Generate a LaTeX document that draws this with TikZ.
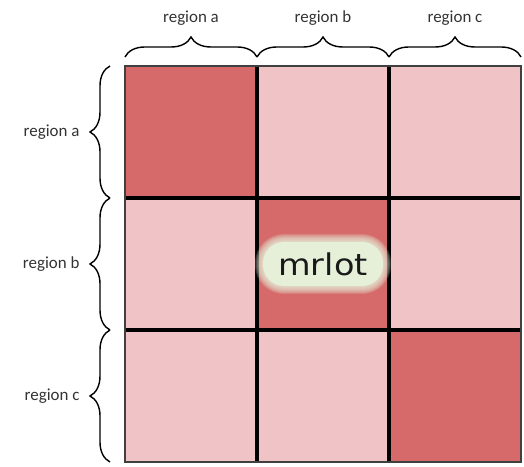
\documentclass[tikz,border=0pt]{standalone}
\usepackage{fontspec}
\setmainfont{Carlito}
\newfontfamily\tagfont{DejaVu Sans}
\usetikzlibrary{decorations.pathreplacing}
\definecolor{hot}{HTML}{D66A6A}
\definecolor{cold}{HTML}{F0C4C6}
\definecolor{glow}{HTML}{E6F0D9}
\definecolor{ink}{HTML}{333333}

\begin{document}
\begin{tikzpicture}[x=1bp, y=1bp,
  brc/.style={decorate, decoration={brace, amplitude=20bp}, line width=1.4bp},
  regname/.style={text=ink, font=\fontsize{17}{20}\selectfont}]
  \useasboundingbox (0,0) rectangle (524,467);
  % Settings
  \def\s{132} % cell size

  % Cells, row 1 at the top, diagonal is hot
  \foreach \r in {1,2,3} {
    \foreach \c in {1,2,3} {
      \ifnum\r=\c \def\cc{hot}\else\def\cc{cold}\fi
      \fill[\cc] (125+\c*\s-\s, 401-\r*\s) rectangle ++(\s,\s);
    }
  }

  % Grid lines
  \foreach \i in {1,2} {
    \draw[line width=3.2bp] (125+\i*\s, 5) -- ++(0, 396);
    \draw[line width=3.2bp] (125, 5+\i*\s) -- ++(396, 0);
  }
  \draw[line width=2.5bp, black!75] (125,5) rectangle (521,401);

  % Braces and region names
  \foreach \n [count=\i] in {a,b,c} {
    \draw[brc] (125+\i*\s-\s, 410) -- (125+\i*\s, 410);
    \node[regname] (top\n) at (125+\i*\s-\s/2, 449) {region \n};
    \draw[brc] (110, 401-\i*\s) -- (110, 401-\i*\s+\s);
    \node[regname, anchor=east] (side\n) at (83, 401-\i*\s+\s/2) {region \n};
  }

  % Blurred label in the middle cell
  \foreach \k in {8,...,1}
    \fill[glow, opacity=0.18, rounded corners=21+\k]
      (323-60-\k, 203-22-\k) rectangle (323+60+\k, 203+22+\k);
  \fill[glow, rounded corners=21] (323-60, 203-22) rectangle (323+60, 203+22);
  \node[text=black!90, font=\tagfont\fontsize{30}{35}\selectfont,
    xscale=1.12, transform shape] (tag) at (323, 203) {mrlot};
\end{tikzpicture}
\end{document}
